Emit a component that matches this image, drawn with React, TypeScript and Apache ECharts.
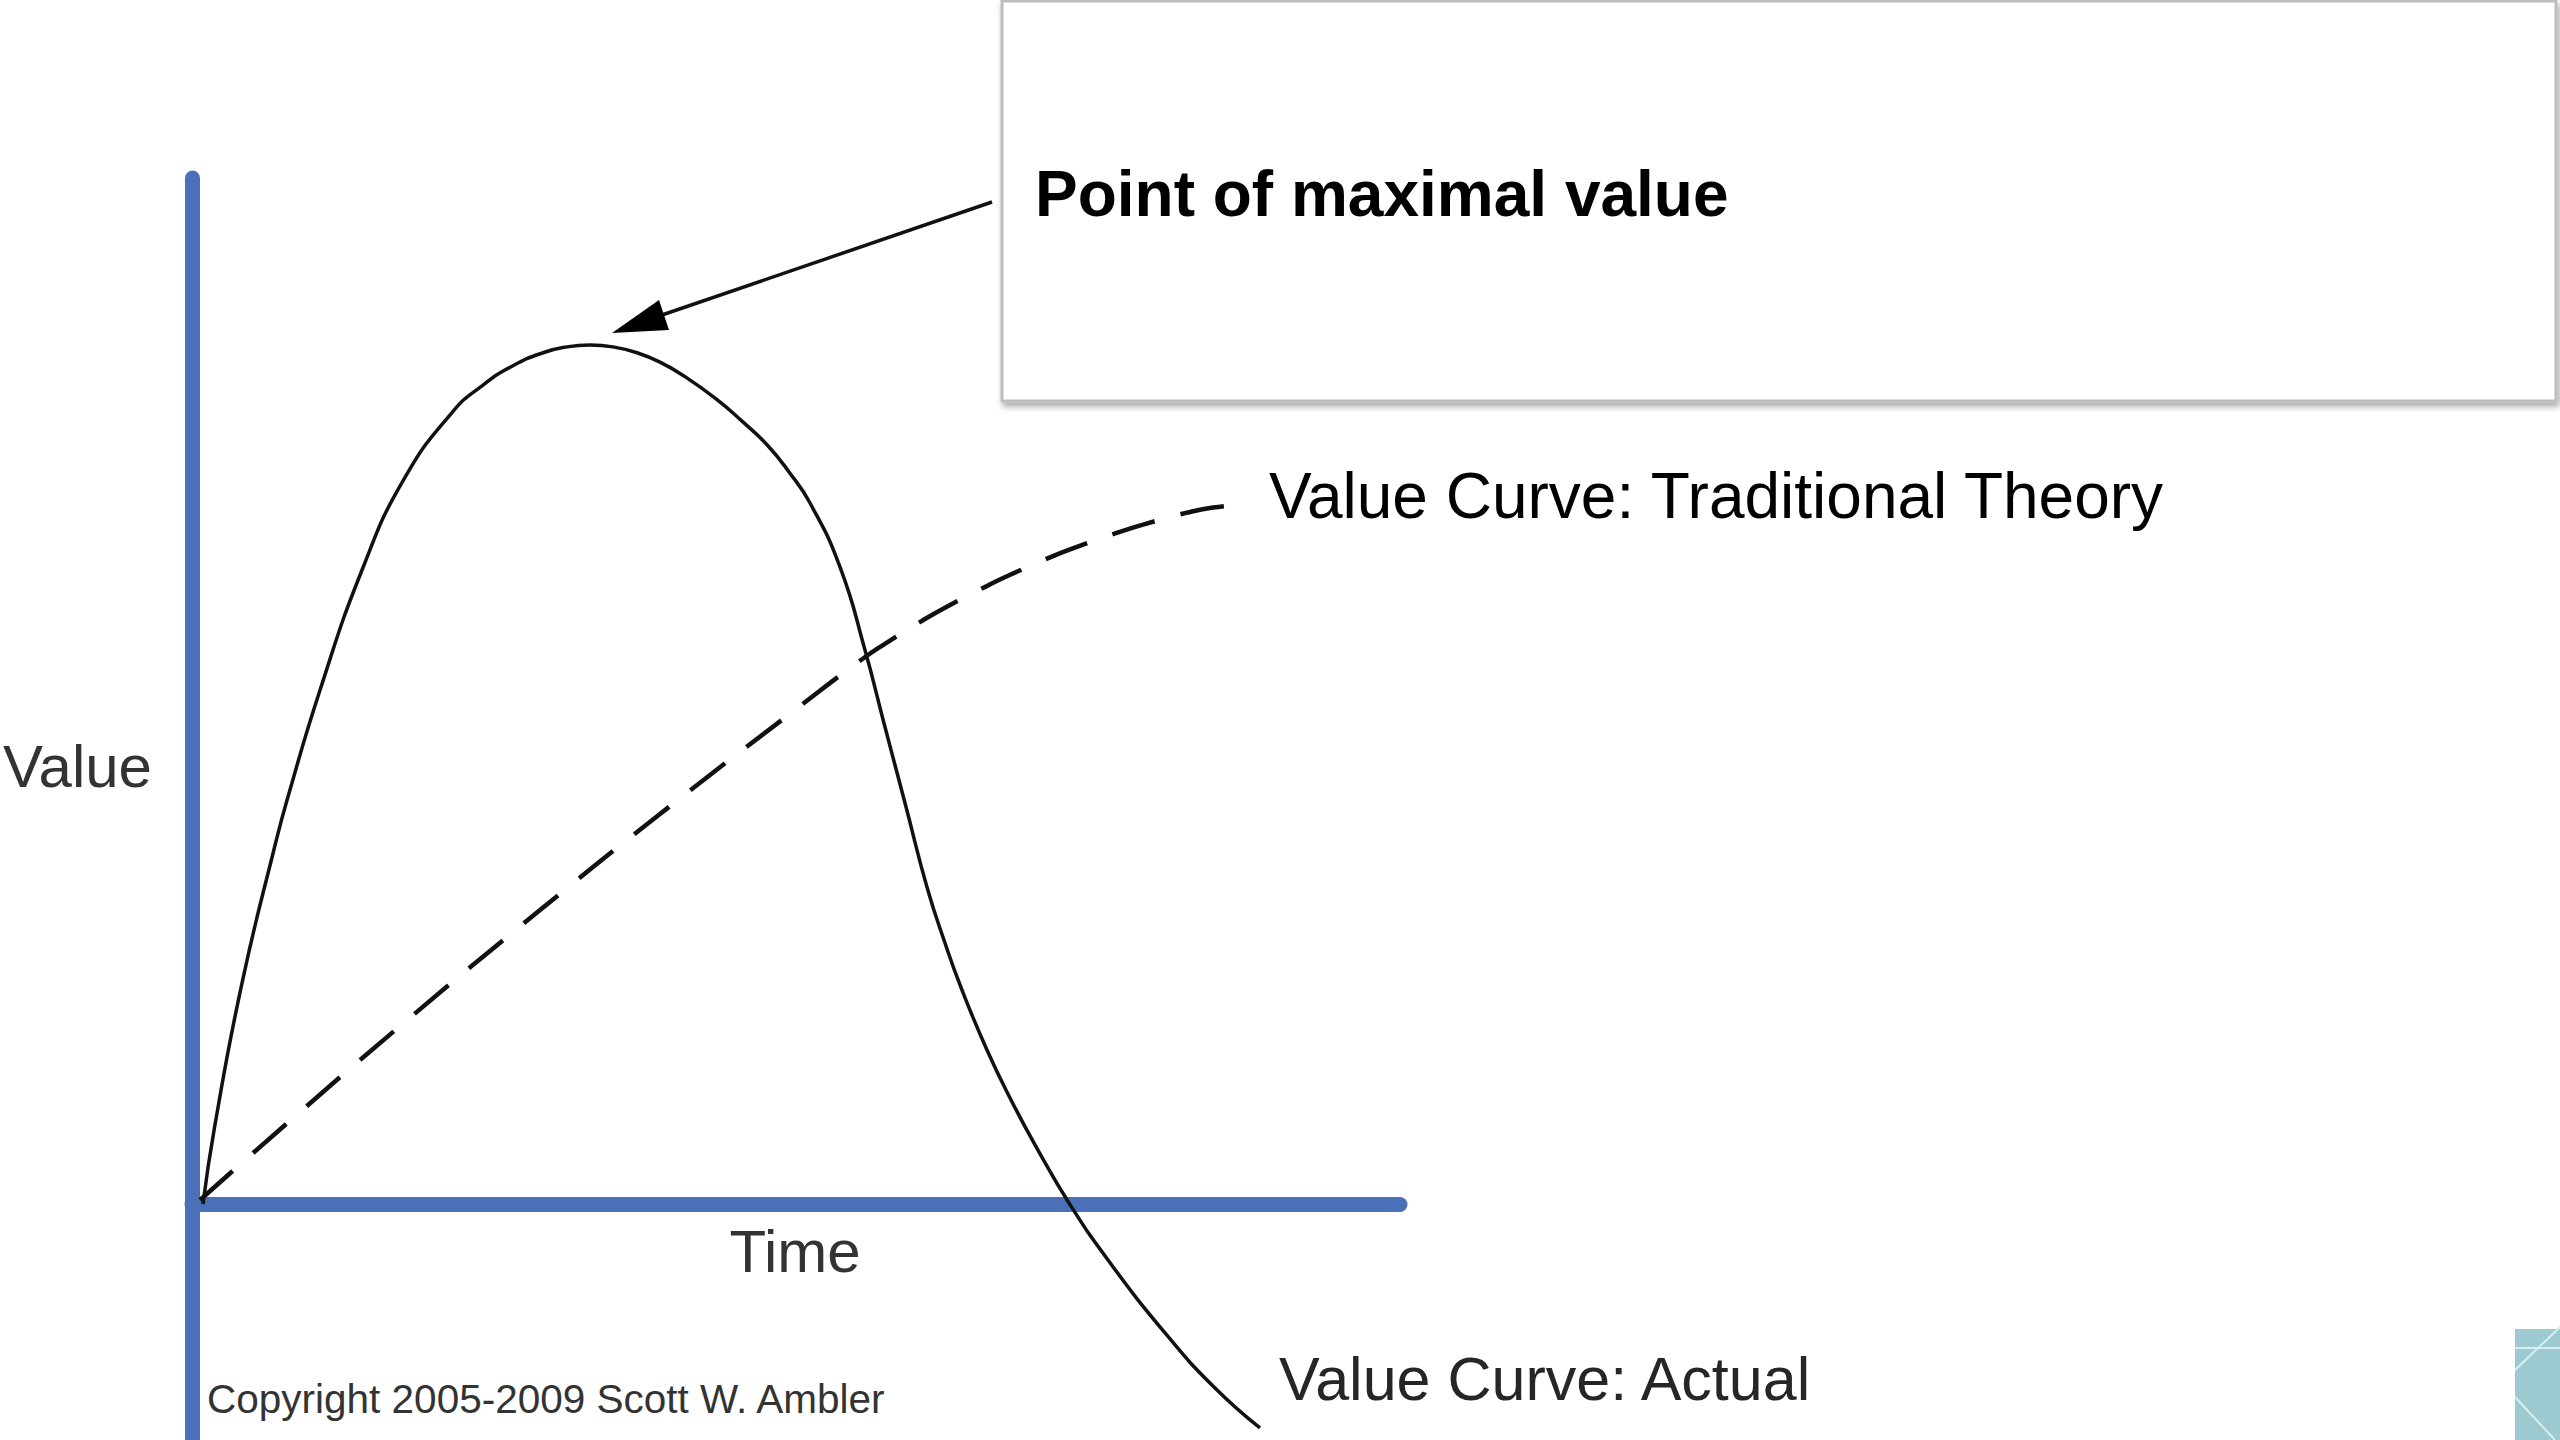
import React, { useEffect, useRef } from "react";
import * as echarts from "echarts";

// Time axis 0..100, value axis -23..100 (arbitrary units)
const actualX = [0.91, 1.87, 4.14, 6.94, 7.87, 10.6, 14.11, 17.51, 21.56, 24.09, 26.57, 29.06, 31.04, 32.95, 34.85, 36.84, 38.74, 40.81, 43.46, 45.53, 47.6, 49.42, 51.16, 53.64, 55.71, 57.28, 59.11, 60.84, 62.25, 63.74, 65.81, 67.8, 70.03, 72.6, 75.83, 80.55, 84.6, 88.41];
const actualY = [0, 7.5, 21.54, 35.28, 39.38, 50.1, 61.89, 70.57, 77.19, 79.82, 81.7, 82.97, 83.54, 83.72, 83.54, 82.97, 82.05, 80.64, 78.4, 76.3, 74.0, 71.35, 68.32, 62.09, 54.0, 46.88, 38.69, 30.9, 25.73, 20.86, 15.01, 10.14, 5.26, 0.1, -5.46, -12.57, -17.84, -21.83];

const theoryX = [0.66, 7.86, 17.38, 28.48, 38.74, 50.66, 55.38, 57.2, 60.43, 62.33, 65.81, 67.55, 71.03, 73.26, 76.66, 78.73, 82.37, 84.52, 87.42];
const theoryY = [0.39, 7.86, 17.5, 28.33, 38.01, 48.83, 53.02, 54.48, 56.84, 58.12, 60.24, 61.23, 63.03, 64.05, 65.46, 66.22, 67.38, 67.88, 68.23];

const xAxisName = "Time";
const yAxisName = "Value";
const calloutText = "Point of maximal value";
const theoryLabel = "Value Curve: Traditional Theory";
const actualLabel = "Value Curve: Actual";
const copyrightText = "Copyright 2005-2009 Scott W. Ambler";

const FONT = "Liberation Sans, Arial, sans-serif";
const AXIS_BLUE = "#4A70B7";

function zip(xs: number[], ys: number[]) {
  return xs.map((x, i) => [x, ys[i]]);
}

export default function App() {
  const ref = useRef<HTMLDivElement>(null);

  useEffect(() => {
    if (!ref.current) return;
    const chart = echarts.init(ref.current, undefined, { renderer: "svg" });
    const axisLine = {
      show: true,
      onZero: true,
      lineStyle: { color: AXIS_BLUE, width: 15, cap: "round" },
    };
    chart.setOption({
      animation: false,
      backgroundColor: "#ffffff",
      grid: { left: 192, right: 1160, top: 178, bottom: 0, containLabel: false, outerBoundsMode: "none" },
      xAxis: {
        type: "value",
        min: 0,
        max: 100,
        axisLine,
        axisTick: { show: false },
        axisLabel: { show: false },
        splitLine: { show: false },
      },
      yAxis: {
        type: "value",
        min: -23,
        max: 100,
        axisLine,
        axisTick: { show: false },
        axisLabel: { show: false },
        splitLine: { show: false },
      },
      series: [
        {
          type: "line",
          name: theoryLabel,
          data: zip(theoryX, theoryY),
          smooth: 0.5,
          symbol: "none",
          lineStyle: { color: "#111111", width: 4.5, type: [44, 27] },
          z: 3,
        },
        {
          type: "line",
          name: actualLabel,
          data: zip(actualX, actualY),
          smooth: 0.5,
          symbol: "none",
          lineStyle: { color: "#111111", width: 3.5 },
          z: 4,
        },
      ],
      graphic: [
        {
          type: "rect",
          shape: { x: 1002, y: 1, width: 1554, height: 400 },
          style: {
            fill: "#ffffff",
            stroke: "#bdbdbd",
            lineWidth: 3,
            shadowBlur: 6,
            shadowOffsetX: 2,
            shadowOffsetY: 4,
            shadowColor: "rgba(0,0,0,0.35)",
          },
          z: 10,
        },
        {
          type: "text",
          x: 1035,
          y: 194,
          style: { text: calloutText, font: `bold 64px ${FONT}`, fill: "#000000", align: "left", verticalAlign: "middle" },
          z: 11,
        },
        {
          type: "line",
          shape: { x1: 992, y1: 202, x2: 662, y2: 315 },
          style: { stroke: "#111111", lineWidth: 3.5 },
          z: 11,
        },
        {
          type: "polygon",
          shape: { points: [[612, 333], [659, 300], [669, 330]] },
          style: { fill: "#000000" },
          z: 11,
        },
        {
          type: "text",
          x: 1269,
          y: 496,
          style: { text: theoryLabel, font: `64px ${FONT}`, fill: "#000000", align: "left", verticalAlign: "middle" },
        },
        {
          type: "text",
          x: 1279,
          y: 1379,
          style: { text: actualLabel, font: `61px ${FONT}`, fill: "#262626", align: "left", verticalAlign: "middle" },
        },
        {
          type: "text",
          x: 152,
          y: 766,
          style: { text: yAxisName, font: `60px ${FONT}`, fill: "#333333", align: "right", verticalAlign: "middle" },
        },
        {
          type: "text",
          x: 795,
          y: 1251,
          style: { text: xAxisName, font: `60px ${FONT}`, fill: "#333333", align: "center", verticalAlign: "middle" },
        },
        {
          type: "text",
          x: 207,
          y: 1399,
          style: { text: copyrightText, font: `40.5px ${FONT}`, fill: "#333333", align: "left", verticalAlign: "middle" },
        },
        {
          type: "group",
          children: [
            { type: "rect", shape: { x: 2515, y: 1329, width: 45, height: 111 }, style: { fill: "#9ccad0" } },
            { type: "line", shape: { x1: 2515, y1: 1348, x2: 2560, y2: 1348 }, style: { stroke: "#d8eef0", lineWidth: 2 } },
            { type: "line", shape: { x1: 2515, y1: 1370, x2: 2560, y2: 1327 }, style: { stroke: "#d8eef0", lineWidth: 2 } },
            { type: "line", shape: { x1: 2515, y1: 1397, x2: 2555, y2: 1440 }, style: { stroke: "#d8eef0", lineWidth: 2 } },
          ],
        },
      ],
    });
    return () => chart.dispose();
  }, []);

  return (
    <div
      ref={ref}
      style={{ position: "fixed", left: 0, top: 0, width: 2560, height: 1440, background: "#ffffff" }}
    />
  );
}
